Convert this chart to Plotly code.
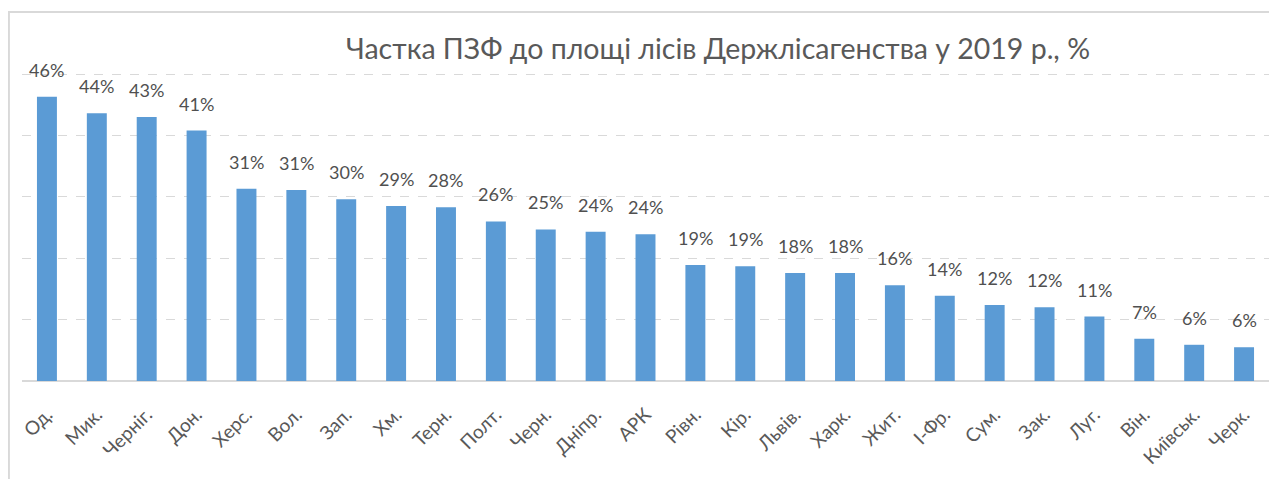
import plotly.graph_objects as go

categories = ["Од.", "Мик.", "Черніг.", "Дон.", "Херс.", "Вол.", "Зап.", "Хм.", "Терн.", "Полт.",
              "Черн.", "Дніпр.", "АРК", "Рівн.", "Кір.", "Львів.", "Харк.", "Жит.", "І-Фр.", "Сум.",
              "Зак.", "Луг.", "Він.", "Київськ.", "Черк."]
values = [46.3, 43.6, 43.0, 40.8, 31.3, 31.1, 29.6, 28.5, 28.3, 26.0,
          24.7, 24.3, 23.9, 18.9, 18.7, 17.6, 17.6, 15.6, 13.9, 12.4,
          12.0, 10.5, 6.9, 5.9, 5.5]
labels = ["46%", "44%", "43%", "41%", "31%", "31%", "30%", "29%", "28%", "26%",
          "25%", "24%", "24%", "19%", "19%", "18%", "18%", "16%", "14%", "12%",
          "12%", "11%", "7%", "6%", "6%"]
title = "Частка ПЗФ до площі лісів Держлісагенства у 2019 р., %"

FONT = "Lato"

fig = go.Figure(go.Bar(
    x=categories, y=values,
    marker=dict(color="#5b9bd5", line=dict(width=0)),
    width=0.4, hoverinfo="x+y",
))

for c, v, t in zip(categories, values, labels):
    fig.add_annotation(x=c, y=v, text=t, showarrow=False, yanchor="bottom", yshift=14,
                       font=dict(family=FONT, size=18, color="#505050"))

fig.update_layout(
    width=1277, height=479,
    paper_bgcolor="white", plot_bgcolor="white",
    margin=dict(l=14, r=16, t=63, b=106, pad=0),
    title=dict(text=title, x=0.556, xanchor="center", y=0.915, yanchor="middle",
               font=dict(family=FONT, size=28.5, color="#595959")),
    showlegend=False,
    xaxis=dict(tickangle=-45, tickfont=dict(family=FONT, size=19, color="#595959"),
               showline=False, ticks="outside", ticklen=14, tickcolor="rgba(0,0,0,0)",
               showgrid=False),
    yaxis=dict(range=[0, 50.5], dtick=10, showticklabels=False, showgrid=True,
               gridcolor="#d9d9d9", griddash="dash", gridwidth=1,
               zeroline=True, zerolinecolor="#d9d9d9", zerolinewidth=2, ticks=""),
    shapes=[
        dict(type="rect", xref="paper", yref="paper", x0=-0.0105, x1=1.0024, y0=-0.4, y1=1.19,
             line=dict(color="#d9d9d9", width=2), fillcolor="rgba(0,0,0,0)", layer="below"),
    ],
)

fig.write_html("out.html")
